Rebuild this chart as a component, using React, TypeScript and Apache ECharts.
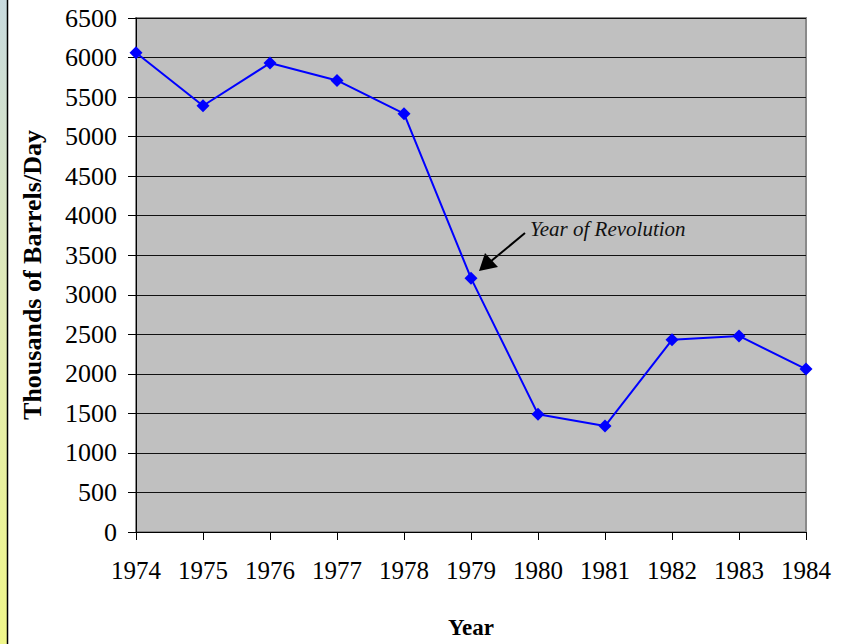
import React, { useEffect, useRef } from "react";
import * as echarts from "echarts";

const years = ["1974", "1975", "1976", "1977", "1978", "1979", "1980", "1981", "1982", "1983", "1984"];
const production = [6060, 5390, 5930, 5710, 5290, 3210, 1490, 1340, 2430, 2480, 2060];
const yAxisTitle = "Thousands of Barrels/Day";
const xAxisTitle = "Year";
const annotationText = "Year of Revolution";

export default function App() {
  const ref = useRef<HTMLDivElement>(null);
  useEffect(() => {
    document.body.style.margin = "0";
    const chart = echarts.init(ref.current!, null, { renderer: "svg" });
    const serif = "'Liberation Serif', 'Times New Roman', serif";
    chart.setOption({
      animation: false,
      backgroundColor: "#ffffff",
      grid: {
        left: 136,
        right: 42,
        top: 18,
        bottom: 110,
        show: true,
        backgroundColor: "#c0c0c0",
        borderColor: "#8a8a8a",
        borderWidth: 2,
      },
      xAxis: {
        type: "category",
        data: years,
        boundaryGap: false,
        axisLine: { lineStyle: { color: "#000", width: 1 } },
        axisTick: { show: true, length: 8, interval: 0, lineStyle: { color: "#000" }, alignWithLabel: true },
        axisLabel: { color: "#000", fontFamily: serif, fontSize: 25, margin: 26, interval: 0, hideOverlap: false },
        splitLine: { show: false },
        name: xAxisTitle,
        nameLocation: "middle",
        nameGap: 84,
        nameTextStyle: { color: "#000", fontFamily: serif, fontSize: 23, fontWeight: "bold" },
      },
      yAxis: {
        type: "value",
        min: 0,
        max: 6500,
        interval: 500,
        axisLine: { show: true, lineStyle: { color: "#000", width: 1 } },
        axisTick: { show: true, length: 8, lineStyle: { color: "#000" } },
        axisLabel: {
          color: "#000",
          fontFamily: serif,
          fontSize: 26,
          margin: 19,
          formatter: (v: number) => String(v),
        },
        splitLine: { show: true, lineStyle: { color: "#111", width: 1 } },
        name: yAxisTitle,
        nameLocation: "middle",
        nameGap: 91,
        nameTextStyle: { color: "#000", fontFamily: serif, fontSize: 26, fontWeight: "bold" },
      },
      series: [
        {
          type: "line",
          data: production,
          symbol: "diamond",
          symbolSize: 13,
          lineStyle: { color: "#0000ff", width: 2 },
          itemStyle: { color: "#0000ff" },
        },
      ],
      graphic: [
        {
          type: "rect",
          shape: { x: 0, y: 0, width: 7, height: 644 },
          style: {
            fill: new echarts.graphic.LinearGradient(0, 0, 0, 1, [
              { offset: 0, color: "#c8dade" },
              { offset: 0.5, color: "#e2ebb4" },
              { offset: 1, color: "#f0f78a" },
            ]),
          },
        },
        {
          type: "line",
          shape: { x1: 7.5, y1: 0, x2: 7.5, y2: 644 },
          style: { stroke: "#000", lineWidth: 1.5 },
        },
        {
          type: "text",
          x: 530,
          y: 229,
          style: {
            text: annotationText,
            fill: "#111",
            font: "italic 21px " + serif,
            textVerticalAlign: "middle",
          },
        },
        {
          type: "line",
          shape: { x1: 525, y1: 233, x2: 490, y2: 262 },
          style: { stroke: "#000", lineWidth: 2 },
        },
        {
          type: "polygon",
          shape: { points: [[479, 271], [485, 253], [498, 267]] },
          style: { fill: "#000" },
        },
      ],
    });
    return () => chart.dispose();
  }, []);
  return <div ref={ref} style={{ position: "absolute", left: 0, top: 0, width: 848, height: 644 }} />;
}
